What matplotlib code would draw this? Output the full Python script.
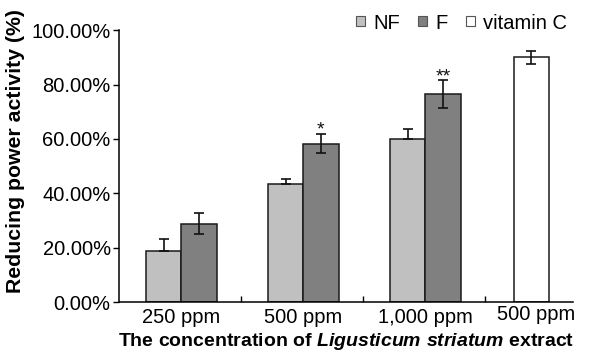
import matplotlib.pyplot as plt
from matplotlib.patches import Patch
from matplotlib.transforms import ScaledTranslation
import numpy as np

# reducing power activity (%)
groups = ['250 ppm', '500 ppm', '1,000 ppm']
nf = [18.8, 43.3, 59.8]
nf_err = [4.4, 2.1, 3.9]
f = [28.8, 58.3, 76.5]
f_err = [3.8, 3.5, 5.0]
vitc = [90.0]
vitc_err = [2.5]
vitc_label = '500 ppm'
marks = ['', '*', '**']

plt.rcParams['font.family'] = 'Liberation Sans'
plt.rcParams['mathtext.fontset'] = 'custom'
plt.rcParams['mathtext.it'] = 'Liberation Sans:italic:bold'
plt.rcParams['mathtext.rm'] = 'Liberation Sans:bold'

fig = plt.figure(figsize=(5.98, 3.55), dpi=100)
ax = fig.add_axes([0.199, 0.149, 0.759, 0.766])

w = 0.29
edge = '#1a1a1a'
x = np.arange(len(groups)) + 0.01
x_nf = x - w / 2
x_f = x + w / 2
x_vc = np.array([len(groups) - 0.12])

ax.bar(x_nf, nf, w, color='#c0c0c0', edgecolor=edge, lw=1.1, zorder=2)
ax.bar(x_f, f, w, color='#808080', edgecolor=edge, lw=1.1, zorder=2)
ax.bar(x_vc, vitc, w, color='white', edgecolor=edge, lw=1.1, zorder=2)

eb = dict(fmt='none', ecolor='#111111', elinewidth=1.2, capsize=3.5, capthick=1.2, zorder=3)
ax.errorbar(x_nf, nf, yerr=[np.zeros(len(nf)), nf_err], **eb)
ax.errorbar(x_f, f, yerr=f_err, **eb)
ax.errorbar(x_vc, vitc, yerr=vitc_err, **eb)

for xi, yi, ei, m in zip(x_f, f, f_err, marks):
    if m:
        ax.text(xi, yi + ei - 1.8, m, ha='center', va='bottom', fontsize=14, color='#111111')

ax.set_xlim(-0.5, 3.22)
ax.set_ylim(0, 100)
ax.set_yticks(np.arange(0, 101, 20))
ax.set_yticklabels(['{:.2f}%'.format(v) for v in np.arange(0, 101, 20)], fontsize=14.5)
ax.tick_params(axis='y', direction='out', length=4, width=1, pad=2)

# ticks between groups, labels under the bars
ax.set_xticks([0.5, 1.5, 2.5])
ax.set_xticklabels([])
ax.tick_params(axis='x', which='major', direction='in', length=4, width=1)
ax.set_xticks(list(x) + [x_vc[0] + 0.04], minor=True)
ax.set_xticklabels(groups + [vitc_label], minor=True, fontsize=14.5)
ax.tick_params(axis='x', which='minor', length=0, pad=4)
last = ax.xaxis.get_minorticklabels()[-1]
last.set_transform(last.get_transform() + ScaledTranslation(0, 2 / 72, fig.dpi_scale_trans))

for s in ['top', 'right']:
    ax.spines[s].set_visible(False)
for s in ['left', 'bottom']:
    ax.spines[s].set_linewidth(1.1)

ax.set_xlabel(r'The concentration of $Ligusticum\ striatum$ extract',
              fontsize=14, fontweight='bold', labelpad=3)
ax.set_ylabel('Reducing power activity (%)', fontsize=15.3, fontweight='bold')
ax.yaxis.set_label_coords(-0.207, 0.555)

handles = [Patch(facecolor='#c0c0c0', edgecolor='#555555', lw=0.8, label='NF'),
           Patch(facecolor='#808080', edgecolor='#555555', lw=0.8, label='F'),
           Patch(facecolor='white', edgecolor='#555555', lw=0.8, label='vitamin C')]
fig.legend(handles=handles, ncol=3, loc='center', bbox_to_anchor=(0.772, 0.935),
           frameon=False, fontsize=14.5, handlelength=0.45, handleheight=0.4,
           handletextpad=0.4, columnspacing=0.9, borderpad=0)

fig.savefig('out.png', dpi=100)
